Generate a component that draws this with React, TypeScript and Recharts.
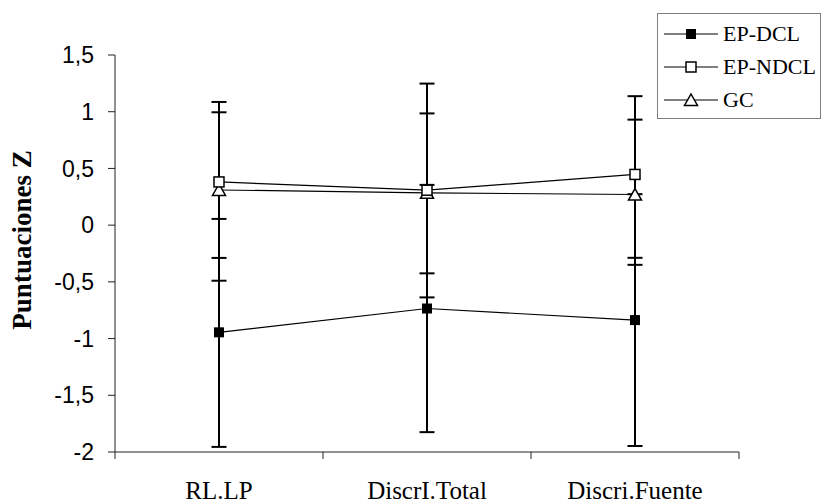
import { LineChart, Line, XAxis, YAxis, ErrorBar, Legend, Label } from 'recharts';

// ── Data ──────────────────────────────────────────────────────────────────

const categories = ['RL.LP', 'DiscrI.Total', 'Discri.Fuente'];
const seriesNames = ['EP-DCL', 'EP-NDCL', 'GC'];

const dclMean = [-0.945, -0.735, -0.837];
const ndclMean = [0.381, 0.308, 0.447];
const gcMean = [0.31, 0.285, 0.27];

// [below, above] error lengths
const dclErr = [[1.01, 1.0], [1.09, 1.09], [1.11, 1.11]];
const ndclErr = [[0.67, 0.705], [0.945, 0.94], [0.735, 0.69]];
const gcErr = [[0.8, 0.685], [0.71, 0.7], [0.62, 0.66]];

const yTicks = [-2, -1.5, -1, -0.5, 0, 0.5, 1, 1.5];
const xTicks = [0, 0.5, 1, 1.5, 2, 2.5, 3];

const data = categories.map((name, i) => ({
  x: i + 0.5,
  name,
  dcl: dclMean[i],
  ndcl: ndclMean[i],
  gc: gcMean[i],
  dclErr: dclErr[i],
  ndclErr: ndclErr[i],
  gcErr: gcErr[i],
}));

const SERIF = '"Liberation Serif", "Times New Roman", serif';
const SANS = '"Liberation Sans", Arial, sans-serif';

// ── Markers ───────────────────────────────────────────────────────────────

function FilledSquare({ cx, cy }: any) {
  if (cx == null || cy == null) return null;
  return <rect x={cx - 5} y={cy - 5} width={10} height={10} fill="#000" />;
}

function OpenSquare({ cx, cy }: any) {
  if (cx == null || cy == null) return null;
  return <rect x={cx - 5} y={cy - 5} width={10} height={10} fill="#fff" stroke="#000" strokeWidth={1.5} />;
}

function OpenTriangle({ cx, cy }: any) {
  if (cx == null || cy == null) return null;
  return (
    <path
      d={`M${cx},${cy - 6} L${cx + 6.5},${cy + 5.5} L${cx - 6.5},${cy + 5.5} Z`}
      fill="#fff"
      stroke="#000"
      strokeWidth={1.5}
    />
  );
}

const markers = [FilledSquare, OpenSquare, OpenTriangle];

// ── Axis pieces ───────────────────────────────────────────────────────────

function XTick({ x, y, payload }: any) {
  const v = payload.value;
  if (Number.isInteger(v)) {
    return <line x1={x} y1={y} x2={x} y2={y + 7} stroke="#222" />;
  }
  return (
    <text x={x} y={y + 47} textAnchor="middle" fill="#000" fontFamily={SERIF} fontSize={25}>
      {categories[Math.floor(v)]}
    </text>
  );
}

function YTitle() {
  return (
    <text
      transform="translate(31,240) rotate(-90)"
      textAnchor="middle"
      fill="#000"
      fontFamily={SERIF}
      fontWeight="bold"
      fontSize={27}
    >
      Puntuaciones Z
    </text>
  );
}

// ── Legend ────────────────────────────────────────────────────────────────

function LegendBox() {
  return (
    <div
      style={{
        width: 164,
        height: 106,
        boxSizing: 'border-box',
        border: '1px solid #808080',
        background: '#fff',
        paddingTop: 3,
        fontFamily: SERIF,
        fontSize: 22,
        color: '#000',
      }}
    >
      {seriesNames.map((name, i) => {
        const M = markers[i];
        return (
          <div key={name} style={{ display: 'flex', alignItems: 'center', height: 33 }}>
            <svg width={62} height={20} style={{ flexShrink: 0 }}>
              <line x1={6} y1={10} x2={60} y2={10} stroke="#000" strokeWidth={1.2} />
              <M cx={33} cy={10} />
            </svg>
            <span style={{ marginLeft: 3, whiteSpace: 'nowrap' }}>{name}</span>
          </div>
        );
      })}
    </div>
  );
}

// ── Chart ─────────────────────────────────────────────────────────────────

export default function App() {
  return (
    <div style={{ position: 'absolute', left: 0, top: 0, width: 821, height: 504, background: '#fff' }}>
      <LineChart width={821} height={504} data={data} margin={{ top: 55, right: 82, left: 0, bottom: 0 }}>
        <XAxis
          dataKey="x"
          type="number"
          domain={[0, 3]}
          ticks={xTicks}
          interval={0}
          height={52}
          axisLine={{ stroke: '#222' }}
          tickLine={false}
          tickSize={0}
          tickMargin={0}
          tick={<XTick />}
        />
        <YAxis
          type="number"
          domain={[-2, 1.5]}
          ticks={yTicks}
          interval={0}
          width={115}
          axisLine={{ stroke: '#222' }}
          tickLine={{ stroke: '#222' }}
          tickSize={7}
          tickMargin={14}
          tick={{ fill: '#000', fontSize: 23, fontFamily: SANS }}
          tickFormatter={(v) => String(v).replace('.', ',')}
        >
          <Label content={<YTitle />} />
        </YAxis>
        <Legend
          layout="vertical"
          align="center"
          verticalAlign="middle"
          content={<LegendBox />}
          wrapperStyle={{ left: 657, top: 13, width: 164 }}
        />

        {/* error bars first, so every marker sits on top */}
        <Line dataKey="dcl" stroke="none" dot={false} activeDot={false} legendType="none" isAnimationActive={false}>
          <ErrorBar dataKey="dclErr" direction="y" width={7.5} stroke="#000" strokeWidth={2} />
        </Line>
        <Line dataKey="ndcl" stroke="none" dot={false} activeDot={false} legendType="none" isAnimationActive={false}>
          <ErrorBar dataKey="ndclErr" direction="y" width={7.5} stroke="#000" strokeWidth={2} />
        </Line>
        <Line dataKey="gc" stroke="none" dot={false} activeDot={false} legendType="none" isAnimationActive={false}>
          <ErrorBar dataKey="gcErr" direction="y" width={7.5} stroke="#000" strokeWidth={2} />
        </Line>

        <Line type="linear" dataKey="gc" stroke="#000" strokeWidth={1.2} dot={<OpenTriangle />} activeDot={false} isAnimationActive={false} />
        <Line type="linear" dataKey="ndcl" stroke="#000" strokeWidth={1.2} dot={<OpenSquare />} activeDot={false} isAnimationActive={false} />
        <Line type="linear" dataKey="dcl" stroke="#000" strokeWidth={1.2} dot={<FilledSquare />} activeDot={false} isAnimationActive={false} />
      </LineChart>
    </div>
  );
}
